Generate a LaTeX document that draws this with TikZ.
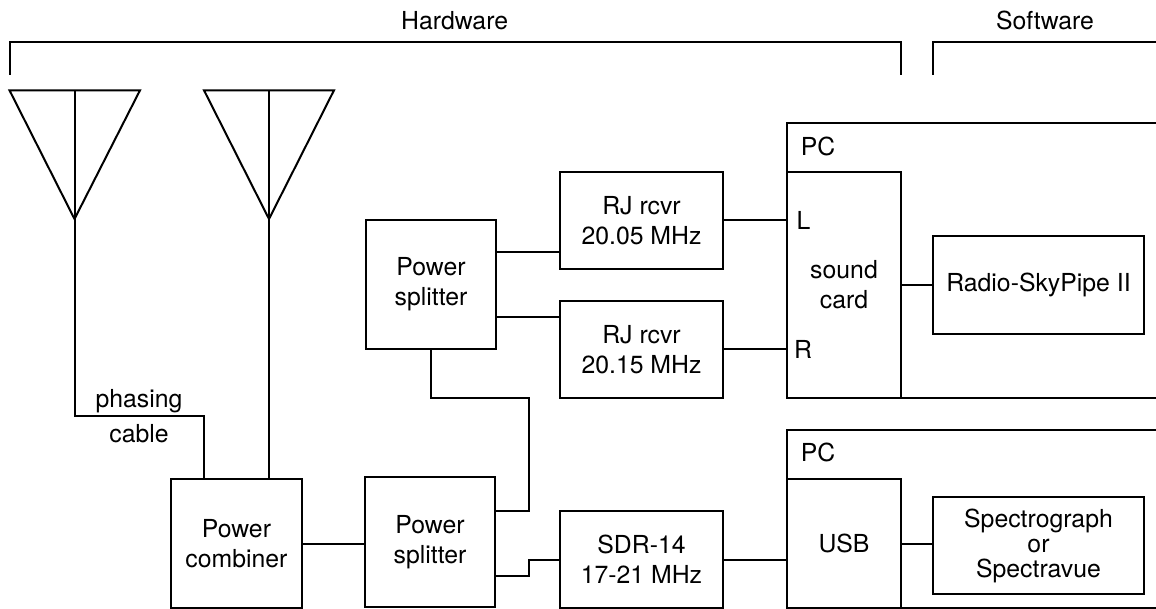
\documentclass[tikz,border=0pt]{standalone}
\usepackage{fontspec}
\setmainfont{TeX Gyre Heros}
\tikzset{
  boxn/.style={draw=black, line width=2pt, rectangle, inner sep=0pt, outer sep=0pt, align=center, font=\fontsize{24.8}{30}\selectfont},
  lab/.style={inner sep=0pt, outer sep=0pt, align=center, font=\fontsize{24.8}{30}\selectfont},
  wire/.style={draw=black, line width=2pt}
}
\newcommand{\bx}[6]{\node[boxn, minimum width=#4 pt-#2 pt, minimum height=#5 pt-#3 pt] (#1) at ({(#2+#4)/2},{(#3+#5)/2+1}) {#6};}
\begin{document}
\begin{tikzpicture}[x=1pt,y=-1pt]
\useasboundingbox (0,0) rectangle (1156,609);
% brackets
\coordinate (hla) at (9.6,42.3);
\coordinate (hra) at (901,42.3); \coordinate (hr) at (901,75);
\coordinate (hl) at (9.6,75);
\draw[wire] (hl) -- (hla) -- (hra) -- (hr);
\coordinate (sl) at (933,75); \coordinate (sla) at (933,42.3); \coordinate (sra) at (1156,42.3);
\draw[wire] (sl) -- (sla) -- (sra);
\node[lab] (hw) at (454.6,20.5) {Hardware};
\node[lab] (sw) at (1045,20.5) {Software};
% antennas
\coordinate (a1l) at (9.5,90.3); \coordinate (a1r) at (140,90.3); \coordinate (a1t) at (74.5,90.3); \coordinate (a1a) at (74.5,219);
\coordinate (a2l) at (204,90.3); \coordinate (a2r) at (334,90.3); \coordinate (a2t) at (269,90.3); \coordinate (a2a) at (269,219);
\draw[wire] (a1l) -- (a1r) -- (a1a) -- cycle;
\draw[wire] (a2l) -- (a2r) -- (a2a) -- cycle;
% PC frames
\coordinate (p1a) at (1156,123); \coordinate (p1b) at (787,123); \coordinate (p1c) at (787,398.3); \coordinate (p1d) at (1156,398.3);
\draw[wire] (p1a) -- (p1b) -- (p1c) -- (p1d);
\coordinate (p2a) at (1156,430.3); \coordinate (p2b) at (787,430.3); \coordinate (p2c) at (787,608); \coordinate (p2d) at (1156,608);
\draw[wire] (p2a) -- (p2b) -- (p2c) -- (p2d);
% boxes
\bx{comb}{171.4}{478}{301.5}{607}{Power\\combiner}
\bx{lsp}{365}{476.3}{495}{605.7}{Power\\splitter}
\bx{usp}{366}{219}{496}{348.3}{Power\\splitter}
\bx{rja}{560}{170.7}{723}{267.7}{RJ rcvr\\20.05 MHz}
\bx{rjb}{560}{300}{723}{397.3}{RJ rcvr\\20.15 MHz}
\bx{sdr}{560}{510.3}{723}{607}{SDR-14\\17-21 MHz}
\bx{snd}{787}{170.7}{901}{397.3}{sound\\card}
\bx{usb}{787}{477.7}{901}{607}{USB}
\bx{rsp}{933}{235}{1144}{332.7}{Radio-SkyPipe II}
\node[boxn, font=\fontsize{24.8}{25}\selectfont, minimum width=211pt, minimum height=97pt] (spc) at (1038.5,545.8) {Spectrograph\\or\\Spectravue};
% labels
\node[lab] (pca) at (818,146) {PC};
\node[lab] (pcb) at (818,452.7) {PC};
\node[lab] (ll) at (803.6,220) {L};
\node[lab] (rl) at (803,349.3) {R};
\node[lab, font=\fontsize{24.8}{35.4}\selectfont] (ph) at (139,416) {phasing\\cable};
% connectors
\coordinate (y1) at (0,252.3); \coordinate (y2) at (0,317); \coordinate (y3) at (0,220); \coordinate (y4) at (0,349.3);
\coordinate (y5) at (0,284.7); \coordinate (y6) at (0,543.7); \coordinate (y7) at (0,560); \coordinate (y8) at (0,576);
\coordinate (y9) at (0,511.3); \coordinate (y10) at (0,398.3); \coordinate (y11) at (0,415.7);
\coordinate (xa) at (528.6,0); \coordinate (xb) at (204,0);
\draw[wire] (a1t) -- (a1a) -- (a1a |- y11) -- (xb |- y11) -- (xb |- comb.north);
\draw[wire] (a2t) -- (a2a) -- (a2a |- comb.north);
\draw[wire] (comb.east |- y6) -- (lsp.west |- y6);
\draw[wire] (usp.east |- y1) -- (rja.west |- y1);
\draw[wire] (usp.east |- y2) -- (rjb.west |- y2);
\draw[wire] (rja.east |- y3) -- (snd.west |- y3);
\draw[wire] (rjb.east |- y4) -- (snd.west |- y4);
\draw[wire] (snd.east |- y5) -- (rsp.west |- y5);
\draw[wire] (usb.east |- y6) -- (spc.west |- y6);
\draw[wire] (sdr.east |- y7) -- (usb.west |- y7);
\draw[wire] (usp.south) -- (usp.south |- y10) -- (xa |- y10) -- (xa |- y9) -- (lsp.east |- y9);
\draw[wire] (lsp.east |- y8) -- (xa |- y8) -- (xa |- y7) -- (sdr.west |- y7);
\end{tikzpicture}
\end{document}
